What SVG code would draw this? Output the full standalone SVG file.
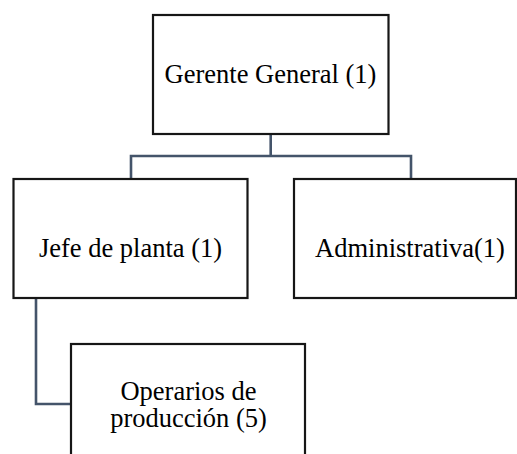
<svg xmlns="http://www.w3.org/2000/svg" width="517" height="454" viewBox="0 0 517 454">
<style>
.box{fill:#fff;stroke:#161616;stroke-width:2.2}
.lbl{font-family:"Liberation Serif","Times New Roman",serif;font-size:26.5px;fill:#000;text-anchor:middle}
.conn{fill:none;stroke:#44546a;stroke-width:2.6}
</style>
<rect width="517" height="454" fill="#fff"/>
<g id="connectors">
<path class="conn" d="M270.7 134 V156 M131 179 V156 H411 V179"/>
<path class="conn" d="M36 298 V404 H71"/>
</g>
<g id="gerente">
<rect class="box" x="153" y="15" width="235.5" height="119"/>
<text class="lbl" x="270.5" y="83">Gerente General (1)</text>
</g>
<g id="jefe">
<rect class="box" x="13.5" y="179" width="234" height="119"/>
<text class="lbl" x="130.5" y="257">Jefe de planta (1)</text>
</g>
<g id="administrativa">
<rect class="box" x="294" y="179" width="222" height="119"/>
<text class="lbl" x="410" y="257">Administrativa(1)</text>
</g>
<g id="operarios">
<rect class="box" x="71" y="344" width="234" height="130"/>
<text class="lbl" x="188.5" y="400">Operarios de</text>
<text class="lbl" x="188.5" y="427">producción (5)</text>
</g>
</svg>
